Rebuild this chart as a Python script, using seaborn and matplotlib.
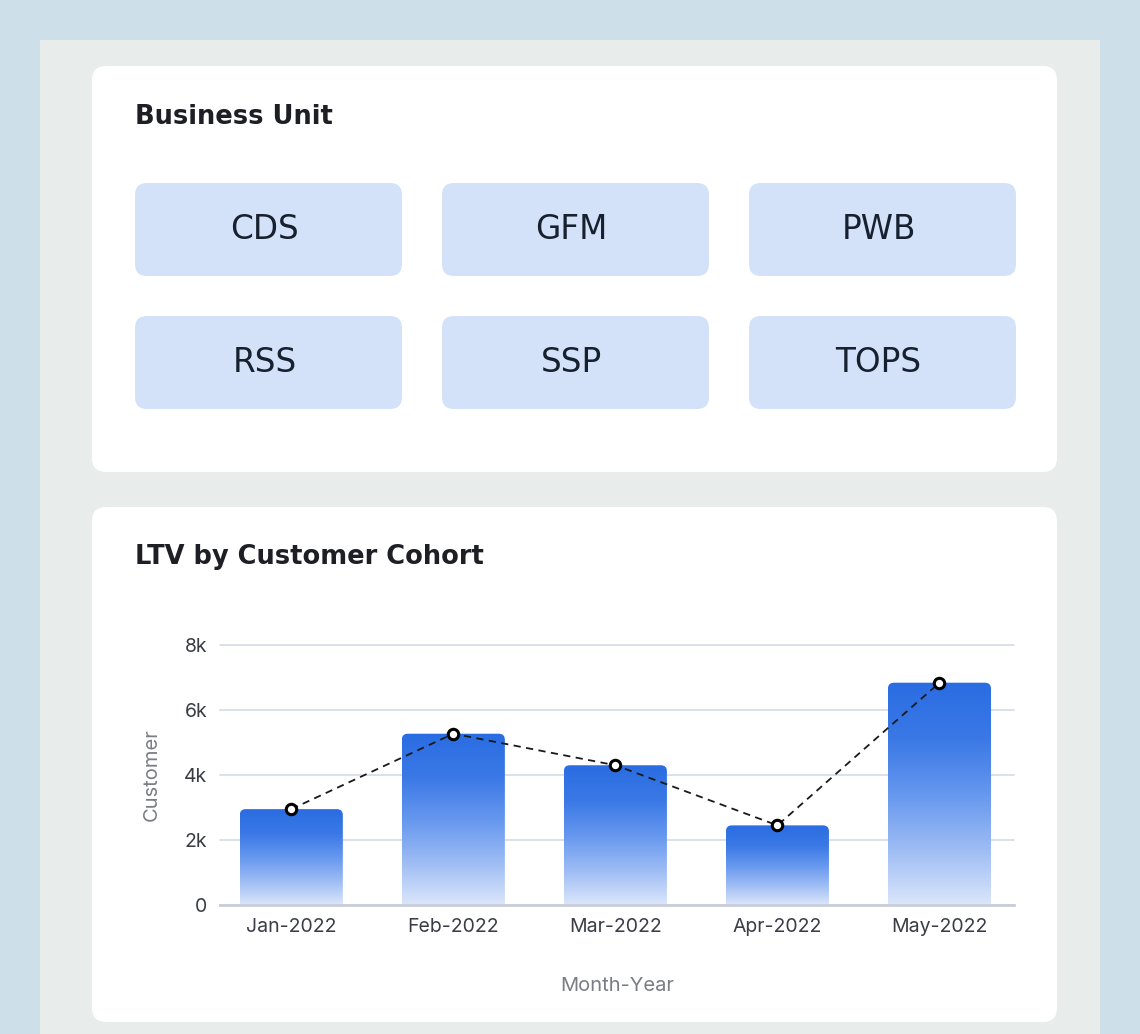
import numpy as np
import pandas as pd
import matplotlib
matplotlib.use("Agg")
import matplotlib.pyplot as plt
from matplotlib.patches import FancyBboxPatch, Rectangle
from matplotlib.transforms import IdentityTransform
from matplotlib.colors import LinearSegmentedColormap
import seaborn as sns

# ---- data ----
business_units = ["CDS", "GFM", "PWB", "RSS", "SSP", "TOPS"]
months = ["Jan-2022", "Feb-2022", "Mar-2022", "Apr-2022", "May-2022"]
ltv_values = [2950, 5270, 4300, 2450, 6840]
y_ticks = [0, 2000, 4000, 6000, 8000]
y_tick_labels = ["0", "2k", "4k", "6k", "8k"]

sns.set_theme(style="white")
plt.rcParams["font.family"] = ["Inter", "DejaVu Sans"]

W, H = 1140, 1034
fig = plt.figure(figsize=(W / 100, H / 100), dpi=100)
fig.patch.set_facecolor("#cddfe8")


def px_rect(x0, y0, x1, y1, color, r=0, z=-5):
    """Rectangle given in pixel coords (top-left origin)."""
    if r > 0:
        p = FancyBboxPatch((x0 / W, 1 - y1 / H), (x1 - x0) / W, (y1 - y0) / H,
                           boxstyle=f"round,pad=0,rounding_size={r / W}",
                           mutation_aspect=W / H,
                           transform=fig.transFigure, facecolor=color,
                           edgecolor="none", zorder=z)
    else:
        p = Rectangle((x0 / W, 1 - y1 / H), (x1 - x0) / W, (y1 - y0) / H,
                      transform=fig.transFigure, facecolor=color,
                      edgecolor="none", zorder=z)
    fig.patches.append(p)


# outer panel
px_rect(40, 40, 1100, 1060, "#e8eceb", z=-6)
# cards
px_rect(92, 66, 1057, 472, "#ffffff", r=14, z=-5)
px_rect(92, 507, 1057, 1022, "#ffffff", r=14, z=-5)

title_font = ["DejaVu Sans"]
fig.text(135 / W, 1 - 117 / H, "Business Unit", fontsize=18.5, fontweight="bold",
         color="#1e1f24", ha="left", va="center", family=title_font)
fig.text(135 / W, 1 - 557 / H, "LTV by Customer Cohort", fontsize=18.5,
         fontweight="bold", color="#1e1f24", ha="left", va="center",
         family=title_font)

col_x = [(135, 402), (442, 709), (749, 1016)]
row_y = [(183, 276), (316, 409)]
for i, bu in enumerate(business_units):
    (x0, x1) = col_x[i % 3]
    (y0, y1) = row_y[i // 3]
    px_rect(x0, y0, x1, y1, "#d3e2f9", r=12, z=-4)
    fig.text(((x0 + x1) / 2 - 4) / W, 1 - ((y0 + y1) / 2) / H, bu, fontsize=23.5,
             color="#17202e", ha="center", va="center", family=title_font)

# ---- chart ----
ax_left, ax_right = 220, 1014
ax_top, ax_bottom = 645, 905
ax = fig.add_axes([ax_left / W, 1 - ax_bottom / H, (ax_right - ax_left) / W,
                   (ax_bottom - ax_top) / H])
ax.set_facecolor("none")

df = pd.DataFrame({"month": months, "ltv": ltv_values})
sns.barplot(data=df, x="month", y="ltv", ax=ax, color="#2f72e4", width=0.636,
            errorbar=None, zorder=2)
ax.set_ylim(0, 8000)
ax.set_xlim(-0.44, 4.46)

fig.canvas.draw()
cmap = LinearSegmentedColormap.from_list(
    "g", ["#dbe6fb", "#9dbcf4", "#6597ee", "#3a78e6", "#2a6de2"])
grad = np.linspace(0, 1, 256).reshape(-1, 1)
for bar in list(ax.patches):
    x = bar.get_x()
    w = bar.get_width()
    h = bar.get_height()
    bar.set_visible(False)
    (px0, py0) = ax.transData.transform((x, 0))
    (px1, py1) = ax.transData.transform((x + w, h))
    clip = FancyBboxPatch((px0, py0 - 20), px1 - px0, py1 - py0 + 20,
                          boxstyle="round,pad=0,rounding_size=6",
                          transform=IdentityTransform(), facecolor="none",
                          edgecolor="none")
    ax.add_patch(clip)
    im = ax.imshow(grad, cmap=cmap, origin="lower", aspect="auto",
                   extent=[x, x + w, 0, h], zorder=2)
    im.set_clip_path(clip)
ax.set_xlim(-0.44, 4.46)
ax.set_ylim(0, 8000)

sns.pointplot(data=df, x="month", y="ltv", ax=ax, color="#1a1a1a",
              linestyle="--", marker="o", errorbar=None, zorder=4)
for ln in ax.lines:
    ln.set_linewidth(1.3)
    ln.set_dashes([4, 3])
    ln.set_markersize(7.5)
    ln.set_markerfacecolor("white")
    ln.set_markeredgecolor("black")
    ln.set_markeredgewidth(2.2)
    ln.set_zorder(5)
    ln.set_clip_on(False)
ax.set_xlim(-0.44, 4.46)
ax.set_ylim(0, 8000)

ax.set_yticks(y_ticks)
ax.set_yticklabels(y_tick_labels)
ax.yaxis.grid(True, color="#d6dae6", linewidth=1.2, zorder=0)
for gl in ax.get_ygridlines():
    gl.set_clip_on(False)
ax.set_axisbelow(True)
for s in ["top", "right", "left"]:
    ax.spines[s].set_visible(False)
ax.spines["bottom"].set_color("#c9cdd8")
ax.spines["bottom"].set_linewidth(2)
ax.tick_params(axis="both", length=0, labelsize=14, colors="#3a3d45")
ax.tick_params(axis="y", pad=9)
ax.tick_params(axis="x", pad=9)
ax.set_xlabel("Month-Year", fontsize=14.5, color="#7a7d85", labelpad=30)
ax.set_ylabel("Customer", fontsize=14.5, color="#7a7d85", labelpad=17)

fig.savefig("out.png", dpi=100)
